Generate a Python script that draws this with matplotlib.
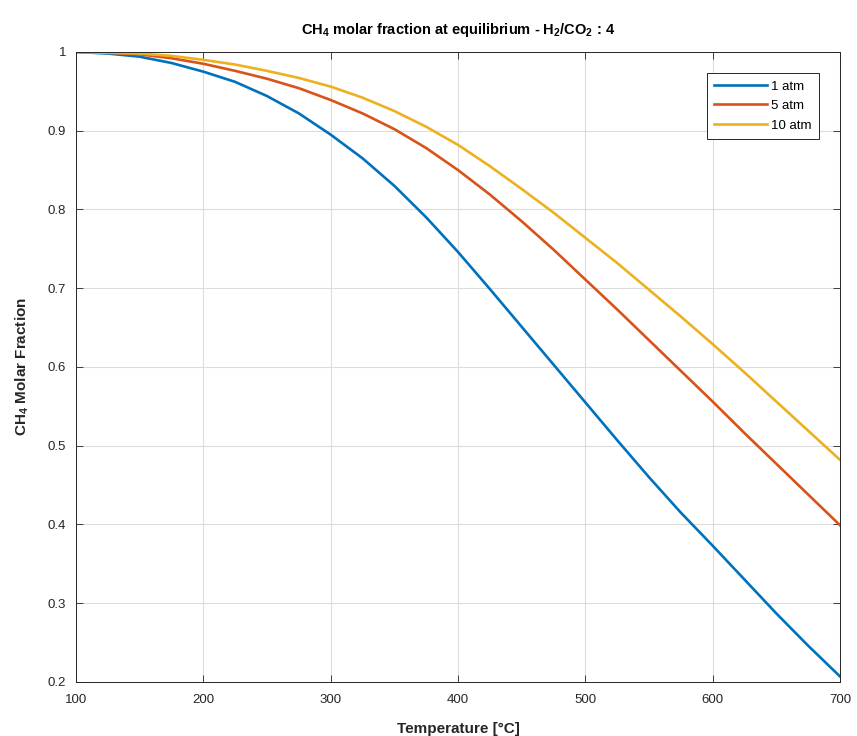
import matplotlib.pyplot as plt
import matplotlib.ticker as mticker

plt.rcParams['font.family'] = ['Liberation Sans', 'DejaVu Sans']
plt.rcParams['mathtext.fontset'] = 'custom'
plt.rcParams['mathtext.rm'] = 'Liberation Sans'
plt.rcParams['mathtext.bf'] = 'Liberation Sans:bold'

temperature = [100, 125, 150, 175, 200, 225, 250, 275, 300, 325, 350, 375, 400,
               425, 450, 475, 500, 525, 550, 575, 600, 625, 650, 675, 700]
frac_1atm = [1.000, 0.998, 0.994, 0.986, 0.975, 0.962, 0.944, 0.922, 0.895, 0.865,
             0.830, 0.790, 0.746, 0.699, 0.651, 0.603, 0.555, 0.507, 0.460, 0.415,
             0.373, 0.330, 0.287, 0.246, 0.207]
frac_5atm = [1.000, 0.999, 0.997, 0.992, 0.985, 0.976, 0.966, 0.954, 0.939, 0.922,
             0.902, 0.878, 0.850, 0.819, 0.785, 0.749, 0.711, 0.673, 0.634, 0.595,
             0.556, 0.516, 0.477, 0.438, 0.399]
frac_10atm = [1.000, 0.999, 0.998, 0.995, 0.990, 0.984, 0.976, 0.967, 0.956, 0.942,
              0.925, 0.905, 0.882, 0.855, 0.826, 0.796, 0.764, 0.732, 0.698, 0.664,
              0.629, 0.593, 0.556, 0.519, 0.482]
labels = ['1 atm', '5 atm', '10 atm']
colors = ['#0072BD', '#D95319', '#EDB120']

fig = plt.figure(figsize=(8.57, 7.36), dpi=100)
ax = fig.add_axes([0.0887, 0.0734, 0.8915, 0.8560])

for y, lab, c in zip([frac_1atm, frac_5atm, frac_10atm], labels, colors):
    ax.plot(temperature, y, color=c, linewidth=1.9, label=lab,
            solid_joinstyle='round')

ax.set_xlim(100, 700)
ax.set_ylim(0.2, 1.0)
ax.set_xticks(range(100, 701, 100))
ax.set_yticks([0.2, 0.3, 0.4, 0.5, 0.6, 0.7, 0.8, 0.9, 1.0])
ax.yaxis.set_major_formatter(mticker.FormatStrFormatter('%g'))
ax.grid(True, color='#dcdcdc', linewidth=0.8)
ax.set_axisbelow(True)
ax.tick_params(direction='in', length=5, width=0.6, colors='#262626',
               labelsize=9.5, top=True, right=True)
ax.tick_params(axis='x', pad=9)
ax.tick_params(axis='y', pad=7)
for s in ax.spines.values():
    s.set_color('#262626')
    s.set_linewidth(0.7)

ax.set_title(r'CH$_\mathbf{4}$ molar fraction at equilibrium - H$_\mathbf{2}$/CO$_\mathbf{2}$ : 4',
             fontsize=10.5, fontweight='bold', pad=13)
ax.set_ylabel(r'CH$_\mathbf{4}$ Molar Fraction', fontsize=11, fontweight='bold',
              color='#262626', labelpad=12)
ax.set_xlabel('Temperature [°C]', fontsize=11, fontweight='bold', color='#262626',
              labelpad=11)

leg = ax.legend(loc='upper right', fontsize=9.5, fancybox=False, framealpha=1,
                edgecolor='#262626', borderaxespad=1.6, handlelength=4.0,
                handletextpad=0.35, labelspacing=0.55, borderpad=0.55)
leg.get_frame().set_linewidth(0.7)

fig.savefig('out.png', dpi=100)
